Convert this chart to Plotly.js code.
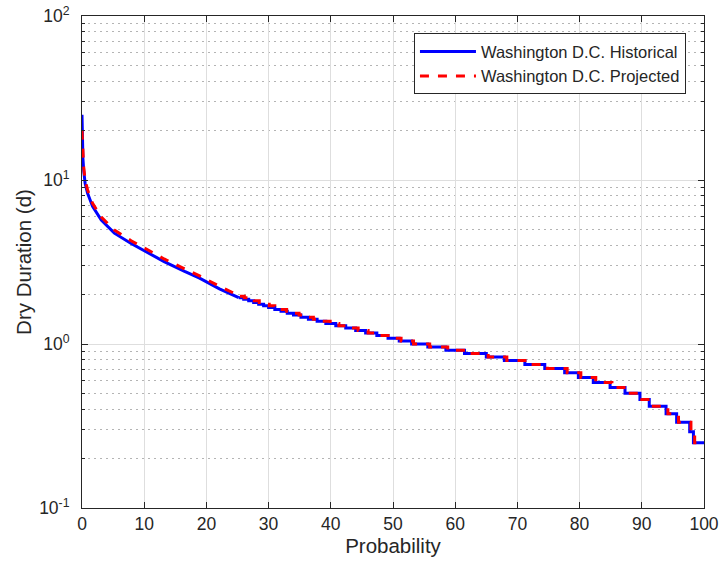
<!DOCTYPE html>
<html><head><meta charset="utf-8">
<script src="https://cdn.plot.ly/plotly-3.0.1.min.js"></script>
<style>html,body{margin:0;padding:0;background:#fff}#chart{width:719px;height:567px}</style>
</head><body><div id="chart"></div>
<script>
const seriesNames = ['Washington D.C. Historical', 'Washington D.C. Projected'];

// Historical: smooth upper part (probability %, dry duration in days)
const histHeadProb = [0, 0.05, 0.15, 0.27, 0.5, 0.9, 1.7, 3.1, 5.2, 7.9, 10.2, 13.2, 16.5, 18.9, 22.1, 25.2];
const histHeadDur  = [25, 18, 13.5, 11.5, 9.55, 8.3, 6.9, 5.7, 4.74, 4.1, 3.66, 3.18, 2.77, 2.52, 2.17, 1.917];
// Historical: stair part (plateau start probability, duration in days)
const histStepProb = [25.2, 26.0, 26.8, 27.6, 28.4, 29.2, 30.0, 31.0, 32.0, 33.0, 34.0, 35.2, 36.4, 37.8, 39.2, 40.8, 42.4, 44.0, 45.6, 47.4, 49.2, 51.0, 53.0, 55.6, 58.5, 61.5, 65.0, 67.9, 71.2, 74.4, 77.6, 79.8, 82.2, 84.9, 87.3, 89.7, 91.2, 93.9, 95.6, 97.7, 98.3, 100];
const histStepDur  = [1.917, 1.875, 1.833, 1.792, 1.750, 1.708, 1.667, 1.625, 1.583, 1.542, 1.500, 1.458, 1.417, 1.375, 1.333, 1.292, 1.250, 1.208, 1.167, 1.125, 1.083, 1.042, 1.000, 0.958, 0.917, 0.875, 0.833, 0.792, 0.750, 0.708, 0.667, 0.625, 0.583, 0.542, 0.500, 0.458, 0.417, 0.375, 0.333, 0.292, 0.250, 0.250];

// Projected
const projHeadProb = [0, 0.1, 0.27, 0.5, 0.9, 1.7, 3.1, 5.2, 7.9, 10.2, 13.2, 16.5, 18.9, 22.1, 25.4];
const projHeadDur  = [20, 15, 12, 10, 8.7, 7.2, 5.95, 4.95, 4.26, 3.82, 3.3, 2.87, 2.6, 2.25, 1.958];
const projStepProb = [25.4, 26.1, 26.9, 27.7, 28.5, 29.3, 30.1, 31.0, 31.9, 32.9, 33.9, 34.9, 36.0, 37.2, 38.5, 39.9, 41.3, 42.8, 44.4, 46.0, 47.7, 49.5, 51.3, 53.3, 55.9, 58.8, 61.9, 65.3, 68.3, 71.6, 74.8, 78.0, 80.2, 82.6, 85.2, 87.6, 90.0, 91.5, 94.2, 95.9, 97.9, 98.5, 100];
const projStepDur  = [1.958, 1.917, 1.875, 1.833, 1.792, 1.750, 1.708, 1.667, 1.625, 1.583, 1.542, 1.500, 1.458, 1.417, 1.375, 1.333, 1.292, 1.250, 1.208, 1.167, 1.125, 1.083, 1.042, 1.000, 0.958, 0.917, 0.875, 0.833, 0.792, 0.750, 0.708, 0.667, 0.625, 0.583, 0.542, 0.500, 0.458, 0.417, 0.375, 0.333, 0.292, 0.250, 0.250];

const xTickVals = [0, 10, 20, 30, 40, 50, 60, 70, 80, 90, 100];
const yTickVals = [0.1, 1, 10, 100];
const yTickText = ['10<sup>-1</sup>', '10<sup>0</sup>', '10<sup>1</sup>', '10<sup>2</sup>'];
const minorMultipliers = [2, 3, 4, 5, 6, 7, 8, 9];
const minorDecades = [0.1, 1, 10];
const yMinorVals = [];
minorDecades.forEach(d => minorMultipliers.forEach(m => yMinorVals.push(+(m * d).toPrecision(3))));

const axisColor = '#262626';
const font = 'Liberation Sans, Arial, Helvetica, sans-serif';

const traces = [
  {x: histHeadProb, y: histHeadDur, type: 'scatter', mode: 'lines', name: seriesNames[0],
   legendgroup: 'h', line: {color: '#0000ff', width: 3}},
  {x: histStepProb, y: histStepDur, type: 'scatter', mode: 'lines', name: seriesNames[0],
   legendgroup: 'h', showlegend: false, line: {color: '#0000ff', width: 3, shape: 'hv'}},
  {x: projHeadProb, y: projHeadDur, type: 'scatter', mode: 'lines', name: seriesNames[1],
   legendgroup: 'p', line: {color: '#ff0000', width: 3, dash: 'dash'}},
  {x: projStepProb, y: projStepDur, type: 'scatter', mode: 'lines', name: seriesNames[1],
   legendgroup: 'p', showlegend: false, line: {color: '#ff0000', width: 3, dash: 'dash', shape: 'hv'}}
];

const layout = {
  width: 719, height: 567,
  margin: {l: 82, r: 15, t: 16, b: 59},
  paper_bgcolor: '#ffffff', plot_bgcolor: '#ffffff',
  font: {family: font, color: axisColor},
  showlegend: true,
  legend: {x: 0.971, y: 0.965, xanchor: 'right', yanchor: 'top',
           bgcolor: '#ffffff', bordercolor: axisColor, borderwidth: 1,
           font: {family: font, size: 16.5, color: axisColor}, itemwidth: 56, tracegroupgap: 0},
  xaxis: {
    range: [0, 100], tickmode: 'array', tickvals: xTickVals,
    ticks: 'inside', ticklen: 6, tickcolor: axisColor, tickwidth: 1,
    showline: true, linecolor: axisColor, linewidth: 1, mirror: 'ticks',
    showgrid: true, gridcolor: '#dedede', gridwidth: 1, zeroline: false,
    ticklabeloverflow: 'allow',
    tickfont: {family: font, size: 17.5, color: axisColor},
    title: {text: 'Probability', standoff: 4, font: {family: font, size: 20.5, color: axisColor}}
  },
  yaxis: {
    type: 'log', range: [-1, 2], tickmode: 'array', tickvals: yTickVals, ticktext: yTickText,
    ticks: 'inside', ticklen: 6, tickcolor: axisColor, tickwidth: 1,
    showline: true, linecolor: axisColor, linewidth: 1, mirror: 'ticks',
    showgrid: true, gridcolor: '#dedede', gridwidth: 1, zeroline: false,
    ticklabelstandoff: 8, ticklabeloverflow: 'allow',
    minor: {tickmode: 'array', tickvals: yMinorVals, ticks: 'inside', ticklen: 3,
            tickcolor: axisColor, showgrid: true, gridcolor: '#b4b4b4', griddash: '1.5px,4.5px', gridwidth: 1},
    tickfont: {family: font, size: 17.5, color: axisColor},
    title: {text: 'Dry Duration (d)', font: {family: font, size: 20.5, color: axisColor}}
  }
};

Plotly.newPlot('chart', traces, layout, {displayModeBar: false, staticPlot: true});
</script>
</body></html>
